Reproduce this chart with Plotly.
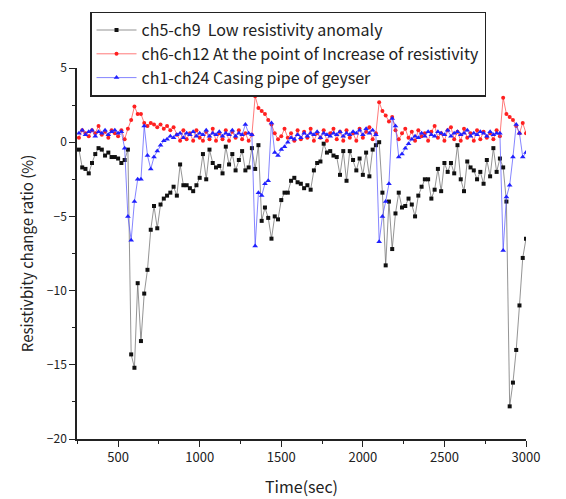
import plotly.graph_objects as go

time_sec = list(range(260, 3001, 20))

low_anomaly = [
    -0.5, -1.7, -1.8, -2.1, -1.4, -0.8, -0.4, -0.5, -0.9, -0.7,
    -1.0, -1.0, -1.1, -1.4, -1.2, -0.5, -14.3, -15.2, -9.5, -13.4,
    -10.2, -8.6, -5.9, -4.3, -5.8, -4.2, -3.8, -3.6, -3.4, -3.0,
    -3.6, -1.5, -2.9, -2.9, -3.1, -3.3, -2.9, -2.4, -0.8, -2.5,
    -0.5, -1.4, -1.7, -1.6, -2.1, -0.3, -1.5, -0.8, -1.9, -1.2,
    -0.6, -1.9, -1.7, -0.4, -1.8, -0.2, -5.3, -4.4, -5.1, -6.5,
    -5.0, -5.2, -3.9, -3.4, -3.4, -2.6, -2.4, -2.7, -2.8, -3.1,
    -2.9, -3.2, -1.9, -1.4, -1.3, -0.1, -0.7, -0.6, -0.9, -1.0,
    -2.2, -0.6, -2.6, -0.6, -1.2, -1.9, -1.1, -2.2, -0.7, -2.3,
    -0.5, -0.2, 0.0, -3.4, -8.3, -4.0, -7.2, -4.8, -3.4, -4.4,
    -4.3, -3.8, -4.2, -5.0, -3.6, -3.0, -2.5, -2.5, -3.8, -3.2,
    -1.8, -3.3, -1.4, -2.0, -1.4, -2.1, -0.2, -2.5, -3.3, -1.3,
    -1.7, -1.9, -2.5, -2.0, -2.8, -1.2, -2.3, -0.4, -2.0, -1.1,
    -1.7, -4.0, -17.8, -16.2, -14.0, -11.0, -7.8, -6.5,
]

increase_point = [
    0.3, 0.8, 0.6, 0.4, 0.8, 0.6, 1.1, 0.5, 0.7, 0.3,
    0.8, 0.6, 0.4, 0.8, 0.2, 0.9, 1.5, 2.4, 1.9, 1.9,
    1.3, 1.1, 1.3, 1.2, 1.0, 1.2, 0.9, 1.1, 0.8, 1.0,
    0.5, 0.1, 0.8, 0.2, 0.6, 0.1, 0.8, 0.3, 0.1, 0.7,
    0.2, 0.9, 0.1, 0.6, 0.2, 0.8, 0.1, 0.7, 0.3, 0.8,
    0.2, 0.6, 0.1, 0.5, 3.1, 2.3, 2.1, 1.9, 1.5, 1.2,
    0.6, 0.2, 0.4, 0.9, 0.3, 0.6, 0.1, 0.8, 0.2, 0.7,
    0.3, 0.9, 0.1, 0.6, 0.3, 0.8, 0.1, 0.6, 0.9, 0.2,
    0.7, 0.1, 0.8, 0.3, 0.6, 0.1, 0.9, 0.3, 0.7, 1.0,
    0.2, 0.6, 2.7, 2.1, 1.8, 1.4, 1.7, 0.8, 0.2, 0.6,
    0.9, 0.3, 0.7, 0.1, 0.8, 0.4, 0.6, 0.1, 0.7, 1.1,
    0.3, 0.6, 0.1, 0.8, 1.0, 0.2, 0.7, 0.1, 0.9, 0.3,
    0.6, 0.1, 0.8, 0.2, 0.7, 0.3, 0.6, 0.2, 0.8, 0.4,
    3.0, 1.9, 1.7, 1.5, 1.1, 0.6, 1.3, 0.6,
]

casing_pipe = [
    0.6, 0.8, 0.5, 0.7, 0.8, 0.4, 0.7, 0.6, 0.8, 0.5,
    0.7, 0.8, 0.6, 0.7, -0.4, -5.0, -6.6, -4.0, -2.5, -2.5,
    1.1, -0.9, -1.8, -1.0, -0.6, -0.2, 0.1, 0.2, 0.4, 0.3,
    0.5, 0.6, 0.3, 0.6, 0.5, 0.7, 0.4, 0.6, 0.5, 0.8,
    0.4, 0.6, 0.5, 0.7, 0.4, 0.6, 0.5, 0.8, 0.4, 0.6,
    0.5, 1.2, 0.6, 0.5, -7.0, -3.4, -3.6, -2.8, -2.6, 1.3,
    -0.7, -0.9, -0.5, -0.3, 0.0, 0.3, 0.2, 0.5, 0.3, 0.6,
    0.4, 0.6, 0.5, 0.7, 0.3, 0.6, 0.5, 0.4, 0.6, 0.5,
    0.7, 0.4, 0.6, 0.5, 0.7, 0.6, 0.8, 0.5, 0.9, 0.6,
    0.8, 0.5, -6.7, -5.0, -4.0, -2.8, 1.6, 1.1, -1.0, -0.8,
    -0.4, -0.1, 0.2, 0.4, 0.3, 0.6, 0.4, 0.7, 0.5, 0.4,
    0.7, 0.6, 0.5, 0.8, 0.4, 0.6, 0.7, 0.5, 0.6, 0.8,
    0.4, 0.6, 0.5, 0.7, 0.6, 0.4, 0.7, 0.5, 0.6, 0.6,
    -7.3, -3.7, -2.9, -1.0, 1.2, 0.6, -1.0, -0.7,
]

names = [
    "ch5-ch9  Low resistivity anomaly",
    "ch6-ch12 At the point of Increase of resistivity",
    "ch1-ch24 Casing pipe of geyser",
]

font = "Noto Sans CJK JP, Noto Sans, sans-serif"

fig = go.Figure()
fig.add_trace(go.Scatter(
    x=time_sec, y=low_anomaly, name=names[0], mode="lines+markers",
    line=dict(color="#666666", width=0.7),
    marker=dict(symbol="square", size=4, color="#111111"),
))
fig.add_trace(go.Scatter(
    x=time_sec, y=increase_point, name=names[1], mode="lines+markers",
    line=dict(color="#ff4040", width=0.7),
    marker=dict(symbol="circle", size=4, color="#ff2020"),
))
fig.add_trace(go.Scatter(
    x=time_sec, y=casing_pipe, name=names[2], mode="lines+markers",
    line=dict(color="#5050ff", width=0.7),
    marker=dict(symbol="triangle-up", size=5, color="#2020ff"),
))

fig.update_layout(
    width=566, height=499,
    margin=dict(l=77, r=40, t=60, b=60),
    paper_bgcolor="white", plot_bgcolor="white",
    font=dict(family=font, size=12, color="#222222"),
    showlegend=True,
    legend=dict(
        x=0.029, y=1.152, xanchor="left", yanchor="top",
        bordercolor="#222222", borderwidth=1.5, bgcolor="white",
        font=dict(family=font, size=16, color="#222222"),
        tracegroupgap=0, itemwidth=40,
    ),
    xaxis=dict(
        range=[248, 3000], showgrid=False, zeroline=False, automargin=False,
        showline=True, linecolor="#222222", linewidth=1.5,
        ticks="outside", ticklen=6, tickwidth=1.2, tickcolor="#222222",
        tick0=500, dtick=500,
        minor=dict(ticks="outside", ticklen=3, tickwidth=1, tickcolor="#222222", dtick=250, tick0=250),
        title=dict(text="Time(sec)", font=dict(family=font, size=16), standoff=16),
        tickfont=dict(size=13),
    ),
    yaxis=dict(
        range=[-20, 5], showgrid=False, zeroline=False, automargin=False,
        showline=True, linecolor="#222222", linewidth=1.5,
        ticks="outside", ticklen=6, tickwidth=1.2, tickcolor="#222222",
        tick0=0, dtick=5,
        minor=dict(ticks="outside", ticklen=3, tickwidth=1, tickcolor="#222222", dtick=2.5),
        title=dict(text="Resistivbity change ratio (%)", font=dict(family=font, size=15), standoff=10),
        tickfont=dict(size=12),
    ),
)

fig.write_html("out.html")
